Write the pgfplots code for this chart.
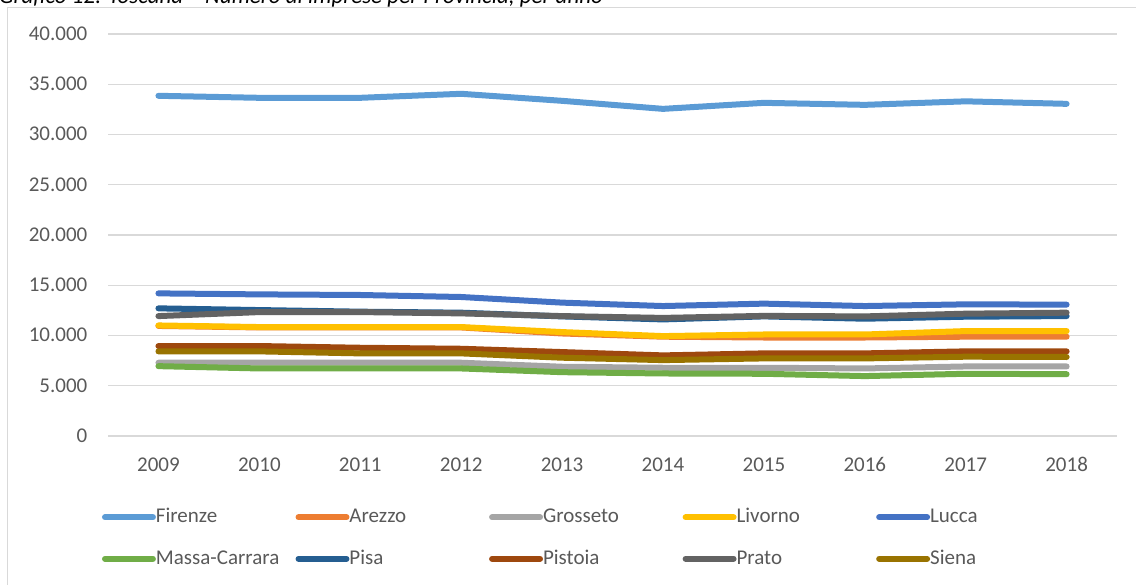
\documentclass[border=0pt]{standalone}
\usepackage{pgfplots}
\pgfplotsset{compat=1.18}
\usepackage{pgfplotstable}
\usepackage{fontspec}
\setmainfont{Carlito}
\definecolor{cFirenze}{HTML}{5B9BD5}
\definecolor{cArezzo}{HTML}{ED7D31}
\definecolor{cGrosseto}{HTML}{A5A5A5}
\definecolor{cLivorno}{HTML}{FFC000}
\definecolor{cLucca}{HTML}{4472C4}
\definecolor{cMassa}{HTML}{70AD47}
\definecolor{cPisa}{HTML}{255E91}
\definecolor{cPistoia}{HTML}{9E480E}
\definecolor{cPrato}{HTML}{636363}
\definecolor{cSiena}{HTML}{997300}
\definecolor{gridgray}{HTML}{D9D9D9}
\definecolor{ticktext}{HTML}{595959}
\pgfplotstableread{
x Firenze Arezzo Grosseto Livorno Lucca Massa Pisa Pistoia Prato Siena
0 33850 10950 7290 11000 14190 6950 12700 8950 11930 8420
1 33650 10800 7290 10840 14090 6720 12530 8950 12330 8420
2 33650 10800 7290 10840 14030 6720 12370 8780 12330 8220
3 34050 10800 7290 10840 13830 6720 12270 8680 12200 8220
4 33350 10200 6890 10340 13270 6350 11900 8350 11930 7790
5 32550 9880 6790 9940 12930 6220 11600 8020 11750 7550
6 33150 9800 6790 10100 13170 6190 11900 8220 11950 7720
7 32950 9800 6720 10100 12930 5960 11670 8220 11900 7720
8 33300 9880 6920 10440 13100 6190 11870 8420 12170 7890
9 33050 9880 6920 10440 13070 6150 11930 8420 12270 7860
}\datatable
\newcommand{\lb}[1]{\makebox[139.6pt][l]{#1}}
\begin{document}
\begin{tikzpicture}
\useasboundingbox (0pt,0pt) rectangle (1136pt,585pt);
\clip (0pt,0pt) rectangle (1136pt,585pt);
\draw[gridgray, line width=1.5pt] (7.5pt,-20pt) -- (7.5pt,577.5pt) -- (1160pt,577.5pt);
\node[anchor=base west, inner sep=0pt, font=\fontsize{23}{27}\selectfont\itshape] at (-1pt,581.5pt) {Grafico 12: Toscana – Numero di imprese per Provincia, per anno};
\begin{axis}[
  at={(108pt,149pt)}, anchor=south west,
  scale only axis, width=1009pt, height=402pt,
  xmin=-0.5, xmax=9.5, ymin=0, ymax=40000,
  xtick={0,...,9},
  xticklabels={2009,2010,2011,2012,2013,2014,2015,2016,2017,2018},
  ytick={0,5000,...,40000},
  scaled y ticks=false,
  axis line style={draw=none},
  tick style={draw=none},
  major tick length=0pt,
  ymajorgrids,
  major grid style={color=gridgray, line width=1.4pt},
  yticklabel style={font=\fontsize{21}{25}\selectfont, text=ticktext, anchor=base east, inner sep=0pt, xshift=-20.5pt, yshift=-6.5pt},
  xticklabel style={font=\fontsize{21}{25}\selectfont, text=ticktext, anchor=base, inner sep=0pt, yshift=-35.5pt},
  /pgf/number format/1000 sep={.},
  /pgf/number format/assume math mode=true,
  clip=false,
  legend columns=5,
  legend cell align=left,
  legend style={at={(-0.00595,-0.1786)}, anchor=north west, draw=none, fill=none,
    inner sep=0pt, outer sep=0pt, column sep=0pt, row sep=22.5pt,
    font=\fontsize{21}{25}\selectfont, text=ticktext,
    nodes={inner sep=0pt, text height=15pt, text depth=4pt}},
  legend image code/.code={\draw[#1, line width=6pt, line cap=round] (2.68pt,0pt) -- (41.07pt,0pt); \path (0pt,0pt) -- (47.95pt,0pt);},
  every axis plot/.append style={line width=6pt, line join=round, line cap=round, mark=none},
]
\addplot[cFirenze] table[x=x,y=Firenze] {\datatable}; \addlegendentry{\lb{Firenze}}
\addplot[cArezzo] table[x=x,y=Arezzo] {\datatable}; \addlegendentry{\lb{Arezzo}}
\addplot[cGrosseto] table[x=x,y=Grosseto] {\datatable}; \addlegendentry{\lb{Grosseto}}
\addplot[cLivorno] table[x=x,y=Livorno] {\datatable}; \addlegendentry{\lb{Livorno}}
\addplot[cLucca] table[x=x,y=Lucca] {\datatable}; \addlegendentry{\lb{Lucca}}
\addplot[cMassa] table[x=x,y=Massa] {\datatable}; \addlegendentry{\lb{Massa-Carrara}}
\addplot[cPisa] table[x=x,y=Pisa] {\datatable}; \addlegendentry{\lb{Pisa}}
\addplot[cPistoia] table[x=x,y=Pistoia] {\datatable}; \addlegendentry{\lb{Pistoia}}
\addplot[cPrato] table[x=x,y=Prato] {\datatable}; \addlegendentry{\lb{Prato}}
\addplot[cSiena] table[x=x,y=Siena] {\datatable}; \addlegendentry{\lb{Siena}}
\end{axis}
\end{tikzpicture}
\end{document}
